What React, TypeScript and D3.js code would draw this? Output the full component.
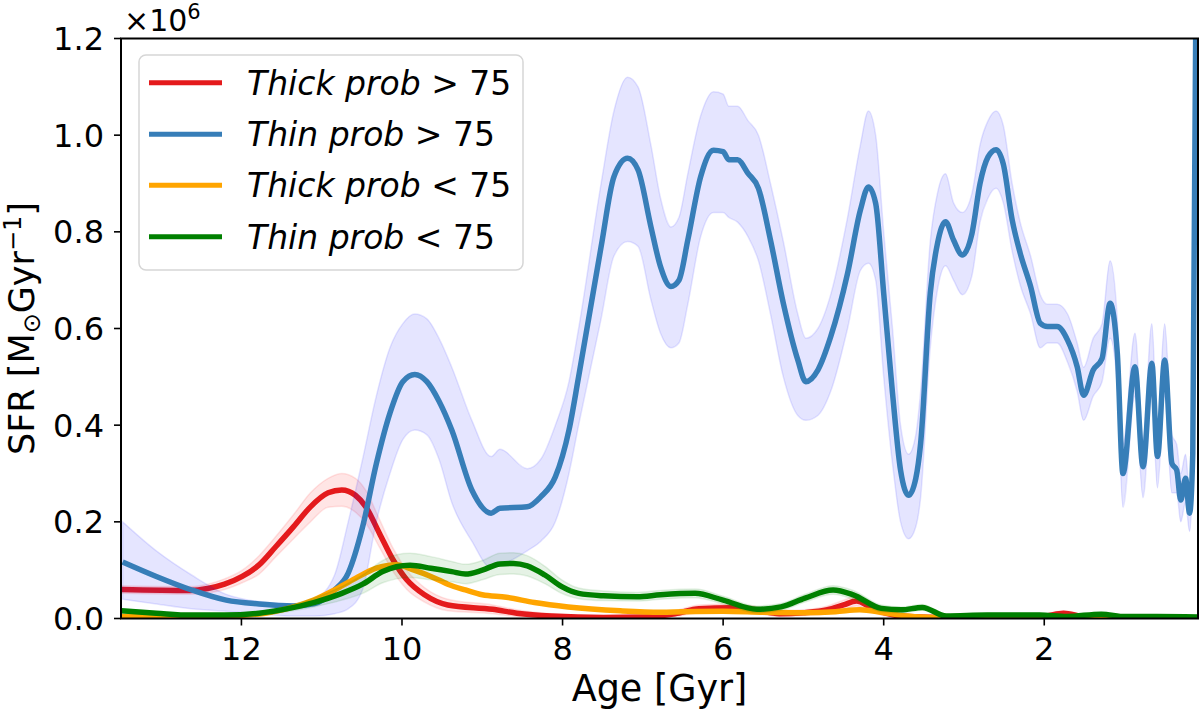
import { useEffect, useRef } from "react"
import * as d3 from "d3"

// Thin prob > 75 (blue)
const thinHiAge = [13.48, 13.06, 12.62, 12.19, 11.78, 11.35, 11.09, 10.84, 10.67, 10.49, 10.32, 10.15, 9.99, 9.84, 9.69, 9.54, 9.38, 9.13, 8.89, 8.78, 8.44, 8.27, 8.09, 7.92, 7.80, 7.52, 7.36, 7.19, 7.06, 6.90, 6.78, 6.65, 6.55, 6.44, 6.28, 6.12, 6.00, 5.93, 5.82, 5.69, 5.56, 5.41, 5.25, 5.07, 4.97, 4.82, 4.66, 4.45, 4.29, 4.19, 4.10, 4.00, 3.89, 3.79, 3.69, 3.60, 3.54, 3.42, 3.33, 3.23, 3.13, 3.02, 2.90, 2.80, 2.70, 2.60, 2.51, 2.40, 2.30, 2.17, 2.05, 1.96, 1.84, 1.71, 1.59, 1.51, 1.39, 1.28, 1.18, 1.09, 1.02, 0.87, 0.77, 0.66, 0.59, 0.50, 0.41, 0.35, 0.30, 0.24, 0.19, 0.15, 0.11]
const thinHiMid = [0.117, 0.087, 0.059, 0.038, 0.030, 0.026, 0.031, 0.059, 0.094, 0.19, 0.32, 0.425, 0.49, 0.505, 0.49, 0.45, 0.39, 0.266, 0.218, 0.228, 0.231, 0.252, 0.293, 0.39, 0.50, 0.769, 0.914, 0.952, 0.928, 0.811, 0.728, 0.687, 0.70, 0.783, 0.914, 0.969, 0.966, 0.949, 0.949, 0.921, 0.89, 0.783, 0.652, 0.535, 0.49, 0.514, 0.583, 0.714, 0.845, 0.893, 0.859, 0.673, 0.466, 0.307, 0.255, 0.29, 0.362, 0.673, 0.776, 0.821, 0.783, 0.752, 0.797, 0.90, 0.955, 0.97, 0.94, 0.825, 0.756, 0.687, 0.611, 0.604, 0.604, 0.576, 0.521, 0.462, 0.514, 0.538, 0.652, 0.549, 0.30, 0.521, 0.314, 0.528, 0.335, 0.535, 0.321, 0.307, 0.245, 0.29, 0.218, 0.342, 1.3]
const thinHiLo = [0.04, 0.03, 0.02, 0.015, 0.01, 0.005, 0.005, 0.01, 0.02, 0.06, 0.2, 0.3, 0.37, 0.39, 0.38, 0.33, 0.24, 0.16, 0.105, 0.11, 0.14, 0.16, 0.20, 0.30, 0.40, 0.62, 0.75, 0.78, 0.77, 0.66, 0.59, 0.56, 0.57, 0.65, 0.79, 0.84, 0.84, 0.83, 0.82, 0.79, 0.74, 0.63, 0.50, 0.42, 0.41, 0.42, 0.47, 0.60, 0.72, 0.735, 0.70, 0.50, 0.32, 0.20, 0.165, 0.19, 0.25, 0.56, 0.68, 0.73, 0.70, 0.67, 0.71, 0.82, 0.87, 0.89, 0.86, 0.76, 0.69, 0.63, 0.56, 0.57, 0.57, 0.53, 0.47, 0.41, 0.46, 0.49, 0.58, 0.48, 0.23, 0.46, 0.25, 0.46, 0.27, 0.46, 0.26, 0.26, 0.20, 0.24, 0.18, 0.30, 1.3]
const thinHiUp = [0.2, 0.14, 0.09, 0.05, 0.035, 0.03, 0.04, 0.09, 0.2, 0.33, 0.46, 0.56, 0.61, 0.63, 0.62, 0.58, 0.52, 0.41, 0.335, 0.35, 0.31, 0.33, 0.40, 0.49, 0.60, 0.90, 1.05, 1.12, 1.10, 0.98, 0.87, 0.81, 0.83, 0.92, 1.04, 1.09, 1.085, 1.06, 1.06, 1.03, 1.0, 0.90, 0.78, 0.63, 0.58, 0.60, 0.67, 0.83, 0.98, 1.05, 1.0, 0.80, 0.60, 0.40, 0.34, 0.38, 0.47, 0.78, 0.88, 0.92, 0.86, 0.84, 0.88, 0.98, 1.03, 1.05, 1.02, 0.90, 0.82, 0.75, 0.67, 0.65, 0.65, 0.63, 0.57, 0.52, 0.58, 0.61, 0.74, 0.62, 0.36, 0.59, 0.37, 0.61, 0.40, 0.61, 0.38, 0.36, 0.30, 0.34, 0.26, 0.40, 1.3]

// Thick prob > 75 (red)
const thickHiAge = [13.5, 12.64, 12.42, 12.21, 11.99, 11.78, 11.57, 11.35, 11.14, 10.92, 10.75, 10.58, 10.45, 10.28, 10.11, 9.94, 9.72, 9.43, 8.87, 8.57, 8.14, 7.49, 7.0, 6.6, 6.3, 5.9, 5.6, 5.3, 5.0, 4.7, 4.5, 4.34, 4.15, 3.95, 3.7, 3.2, 2.5, 2.0, 1.76, 1.5, 1.0, 0.5, 0.08]
const thickHiMid = [0.060, 0.058, 0.062, 0.071, 0.087, 0.111, 0.149, 0.19, 0.231, 0.26, 0.266, 0.255, 0.231, 0.176, 0.121, 0.080, 0.049, 0.028, 0.019, 0.011, 0.005, 0.002, 0.003, 0.010, 0.020, 0.022, 0.018, 0.010, 0.012, 0.018, 0.028, 0.036, 0.022, 0.010, 0.004, 0.002, 0.003, 0.005, 0.011, 0.004, 0.002, 0.002, 0.001]
const thickHiLo = [0.052, 0.050, 0.053, 0.060, 0.074, 0.092, 0.128, 0.165, 0.20, 0.23, 0.232, 0.22, 0.197, 0.147, 0.097, 0.06, 0.034, 0.016, 0.01, 0.004, 0.001, 0, 0, 0.004, 0.012, 0.014, 0.011, 0.004, 0.006, 0.01, 0.018, 0.026, 0.014, 0.004, 0, 0, 0, 0.001, 0.006, 0, 0, 0, 0]
const thickHiUp = [0.068, 0.066, 0.071, 0.082, 0.10, 0.13, 0.17, 0.215, 0.26, 0.29, 0.30, 0.29, 0.265, 0.205, 0.145, 0.10, 0.064, 0.04, 0.028, 0.018, 0.01, 0.005, 0.006, 0.016, 0.028, 0.03, 0.025, 0.016, 0.018, 0.026, 0.038, 0.046, 0.03, 0.016, 0.008, 0.005, 0.006, 0.009, 0.016, 0.008, 0.005, 0.005, 0.003]

// Thick prob < 75 (orange)
const thickLoAge = [13.5, 12.21, 11.7, 11.35, 11.1, 10.84, 10.58, 10.32, 10.07, 9.85, 9.64, 9.43, 9.21, 9.0, 8.70, 8.35, 7.93, 7.28, 6.78, 6.5, 6.0, 5.5, 5.0, 4.6, 4.3, 4.0, 3.7, 3.4, 3.0, 2.5, 2.0, 1.5, 1.0, 0.5, 0.08]
const thickLoMid = [0.004, 0.005, 0.011, 0.024, 0.038, 0.059, 0.083, 0.104, 0.111, 0.10, 0.087, 0.071, 0.059, 0.049, 0.044, 0.033, 0.024, 0.016, 0.013, 0.014, 0.015, 0.013, 0.012, 0.014, 0.018, 0.012, 0.005, 0.002, 0.004, 0.003, 0.002, 0.003, 0.001, 0.001, 0.001]

// Thin prob < 75 (green)
const thinLoAge = [13.5, 13.06, 12.63, 12.21, 11.78, 11.44, 11.1, 10.75, 10.49, 10.24, 10.07, 9.90, 9.64, 9.38, 9.21, 9.0, 8.78, 8.61, 8.44, 8.22, 8.01, 7.80, 7.49, 7.07, 6.78, 6.35, 6.0, 5.58, 5.28, 4.98, 4.63, 4.38, 4.03, 3.78, 3.52, 3.22, 2.71, 2.06, 1.72, 1.29, 0.99, 0.6, 0.08]
const thinLoMid = [0.016, 0.011, 0.007, 0.007, 0.011, 0.020, 0.033, 0.052, 0.071, 0.097, 0.107, 0.110, 0.104, 0.097, 0.092, 0.10, 0.113, 0.114, 0.109, 0.090, 0.066, 0.052, 0.047, 0.045, 0.049, 0.052, 0.038, 0.019, 0.024, 0.042, 0.059, 0.049, 0.021, 0.018, 0.023, 0.005, 0.007, 0.007, 0.004, 0.009, 0.004, 0.004, 0.003]
const thinLoLo = [0.012, 0.008, 0.004, 0.004, 0.007, 0.014, 0.024, 0.038, 0.052, 0.074, 0.082, 0.085, 0.08, 0.076, 0.072, 0.08, 0.091, 0.092, 0.088, 0.072, 0.052, 0.041, 0.037, 0.036, 0.04, 0.043, 0.03, 0.012, 0.017, 0.034, 0.05, 0.04, 0.014, 0.012, 0.017, 0.001, 0.003, 0.003, 0.001, 0.005, 0.001, 0.001, 0.001]
const thinLoUp = [0.02, 0.014, 0.01, 0.01, 0.015, 0.026, 0.042, 0.066, 0.09, 0.12, 0.132, 0.135, 0.128, 0.118, 0.112, 0.12, 0.135, 0.136, 0.13, 0.108, 0.08, 0.063, 0.057, 0.054, 0.058, 0.061, 0.046, 0.026, 0.031, 0.05, 0.068, 0.058, 0.028, 0.024, 0.029, 0.009, 0.011, 0.011, 0.008, 0.013, 0.007, 0.007, 0.005]

const xTicks = [12, 10, 8, 6, 4, 2]
const yTicks = [0, 0.2, 0.4, 0.6, 0.8, 1.0, 1.2]

const legendLabels = ["Thick prob", "Thin prob", "Thick prob", "Thin prob"]
const legendSigns = [">", ">", "<", "<"]
const legendColors = ["#e41a1c", "#377eb8", "#ffa500", "#008000"]

const FONT = "DejaVu Sans, Verdana, sans-serif"

export default function App() {
  const svgRef = useRef<SVGSVGElement>(null)
  const width = 1200
  const height = 714

  useEffect(() => {
    if (!svgRef.current) return
    const svg = d3.select(svgRef.current)
    svg.selectAll("*").remove()

    const left = 121, right = 1198, top = 38.5, bottom = 618.5
    const x = d3.scaleLinear().domain([13.5, 0.085]).range([left, right])
    const y = d3.scaleLinear().domain([0, 1.2]).range([bottom, top])

    svg.append("rect").attr("width", width).attr("height", height).attr("fill", "#fff")

    svg.append("defs").append("clipPath").attr("id", "plot")
      .append("rect").attr("x", left).attr("y", top).attr("width", right - left).attr("height", bottom - top)

    const g = svg.append("g").attr("clip-path", "url(#plot)")

    const curve = d3.curveMonotoneX

    // shaded uncertainty band
    function band(age: number[], lo: number[], up: number[], fill: string) {
      const pts = age.map((a, i) => [a, lo[i], up[i]])
      const area = d3.area<number[]>()
        .x((d) => x(d[0]))
        .y0((d) => y(d[1]))
        .y1((d) => y(d[2]))
        .curve(curve)
      g.append("path").attr("d", area(pts)).attr("fill", fill).attr("stroke", fill).attr("stroke-width", 1.5)
    }

    function line(age: number[], mid: number[], color: string) {
      const pts = age.map((a, i) => [a, mid[i]])
      const ln = d3.line<number[]>().x((d) => x(d[0])).y((d) => y(d[1])).curve(curve)
      g.append("path").attr("d", ln(pts)).attr("fill", "none").attr("stroke", color)
        .attr("stroke-width", 5.5).attr("stroke-linejoin", "round").attr("stroke-linecap", "butt")
    }

    band(thickHiAge, thickHiLo, thickHiUp, "rgba(255,0,0,0.1)")
    line(thickHiAge, thickHiMid, legendColors[0])
    band(thinHiAge, thinHiLo, thinHiUp, "rgba(0,0,255,0.1)")
    line(thinHiAge, thinHiMid, legendColors[1])
    line(thickLoAge, thickLoMid, legendColors[2])
    band(thinLoAge, thinLoLo, thinLoUp, "rgba(0,128,0,0.1)")
    line(thinLoAge, thinLoMid, legendColors[3])

    // spines
    svg.append("rect").attr("x", left).attr("y", top).attr("width", right - left).attr("height", bottom - top)
      .attr("fill", "none").attr("stroke", "#000").attr("stroke-width", 2)

    // x axis ticks
    const xa = svg.append("g")
    xTicks.forEach((t) => {
      xa.append("line").attr("x1", x(t)).attr("x2", x(t)).attr("y1", bottom).attr("y2", bottom + 7)
        .attr("stroke", "#000").attr("stroke-width", 1.6)
      xa.append("text").attr("x", x(t)).attr("y", 660).attr("text-anchor", "middle")
        .attr("font-family", FONT).attr("font-size", 32).text(String(t))
    })

    // y axis ticks
    const ya = svg.append("g")
    yTicks.forEach((t) => {
      ya.append("line").attr("x1", left - 7).attr("x2", left).attr("y1", y(t)).attr("y2", y(t))
        .attr("stroke", "#000").attr("stroke-width", 1.6)
      ya.append("text").attr("x", 104).attr("y", y(t) + 11.5).attr("text-anchor", "end")
        .attr("font-family", FONT).attr("font-size", 32).text(d3.format(".1f")(t))
    })

    // offset text
    const off = svg.append("text").attr("x", 124).attr("y", 31).attr("font-family", FONT).attr("font-size", 30)
    off.append("tspan").text("×10")
    off.append("tspan").attr("font-size", 21).attr("dy", -12).text("6")

    // axis labels
    svg.append("text").attr("x", (left + right) / 2).attr("y", 701).attr("text-anchor", "middle")
      .attr("font-family", FONT).attr("font-size", 36.5).text("Age [Gyr]")

    const yl = svg.append("text").attr("transform", `translate(34,${(top + bottom) / 2}) rotate(-90)`)
      .attr("text-anchor", "middle").attr("font-family", FONT).attr("font-size", 35)
    yl.append("tspan").text("SFR [M")
    yl.append("tspan").attr("font-size", 24).attr("dy", 6).text("⊙")
    yl.append("tspan").attr("dy", -6).text("Gyr")
    yl.append("tspan").attr("font-size", 24).attr("dy", -13).text("−1")
    yl.append("tspan").attr("dy", 13).text("]")

    // legend
    const lg = svg.append("g")
    lg.append("rect").attr("x", 139).attr("y", 55).attr("width", 384).attr("height", 215).attr("rx", 7)
      .attr("fill", "rgba(255,255,255,0.8)").attr("stroke", "#d6d6d6").attr("stroke-width", 1.5)
    const rowY = [82.7, 134.3, 185.3, 236.7]
    legendLabels.forEach((lab, i) => {
      lg.append("line").attr("x1", 149).attr("x2", 222).attr("y1", rowY[i]).attr("y2", rowY[i])
        .attr("stroke", legendColors[i]).attr("stroke-width", 5)
      const t = lg.append("text").attr("x", 247).attr("y", rowY[i] + 12).attr("font-family", FONT).attr("font-size", 33)
      t.append("tspan").attr("font-style", "italic").text(lab)
      t.append("tspan").text(` ${legendSigns[i]} 75`)
    })
  }, [])

  return (
    <div style={{ position: "absolute", left: 0, top: 0 }}>
      <svg ref={svgRef} width={width} height={height} style={{ display: "block" }} />
    </div>
  )
}
